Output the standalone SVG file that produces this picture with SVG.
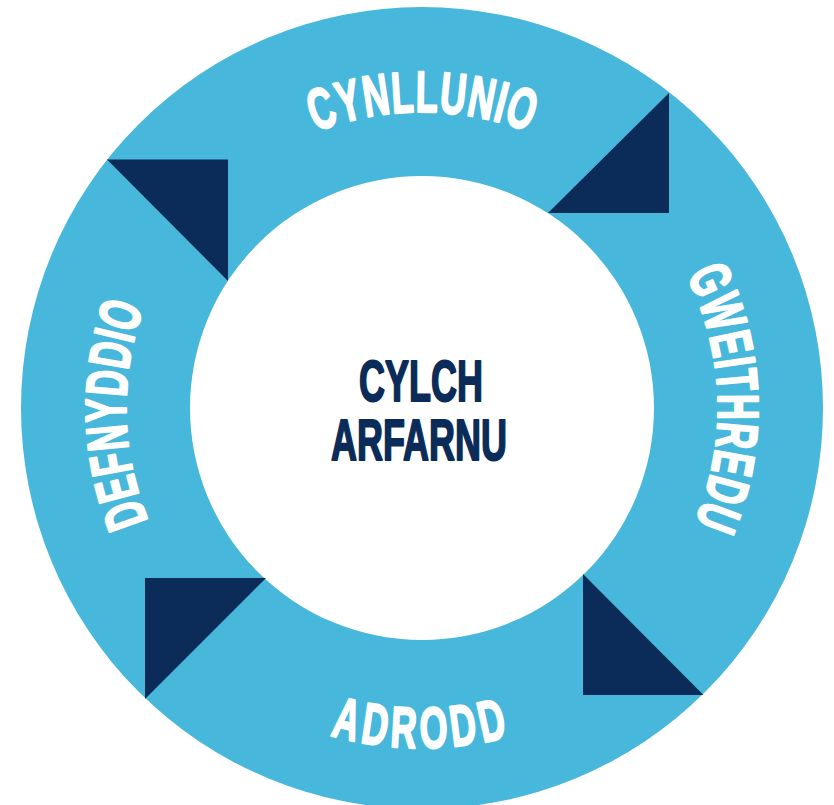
<svg xmlns="http://www.w3.org/2000/svg" width="834" height="805" viewBox="0 0 834 805">
  <style>
    .ring { fill: #48b7dc; fill-rule: evenodd; }
    .tri { fill: #0b2b58; }
    .lbl { font-family: "Liberation Sans", Arial, sans-serif; font-weight: 700; font-size: 58px; fill: #ffffff; stroke: #ffffff; stroke-width: 2.2; stroke-linejoin: round; text-anchor: middle; }
    .ctr { font-family: "Liberation Sans", Arial, sans-serif; font-weight: 700; font-size: 58px; fill: #0b2b58; stroke: #0b2b58; stroke-width: 2; stroke-linejoin: round; text-anchor: middle; }
  </style>
  <rect width="834" height="805" fill="#ffffff"/>
  <path id="ring" class="ring" d="M 21 408 A 401 401 0 1 0 823 408 A 401 401 0 1 0 21 408 Z M 190 408 A 232 232 0 1 1 654 408 A 232 232 0 1 1 190 408 Z"/>
  <g id="connectors">
    <polygon class="tri" points="669,93 669,213 548,213"/>
    <polygon class="tri" points="107,159.5 228,159.5 228,281"/>
    <polygon class="tri" points="145,578 266,578 145,699"/>
    <polygon class="tri" points="583,574 583,695 703.5,695"/>
  </g>
  <g id="cynllunio" class="lbl">
    <text transform="rotate(-18.6 422 408) translate(422 112) scale(.62 1)">C</text>
    <text transform="rotate(-13.5 422 408) translate(422 112) scale(.62 1)">Y</text>
    <text transform="rotate(-8.45 422 408) translate(422 112) scale(.62 1)">N</text>
    <text transform="rotate(-3.6 422 408) translate(422 112) scale(.62 1)">L</text>
    <text transform="rotate(0.85 422 408) translate(422 112) scale(.62 1)">L</text>
    <text transform="rotate(5.7 422 408) translate(422 112) scale(.62 1)">U</text>
    <text transform="rotate(10.95 422 408) translate(422 112) scale(.62 1)">N</text>
    <text transform="rotate(14.6 422 408) translate(422 112) scale(.62 1)">I</text>
    <text transform="rotate(18.45 422 408) translate(422 112) scale(.62 1)">O</text>
  </g>
  <g id="gweithredu" class="lbl">
    <text transform="rotate(66.0 422 408) translate(422 112) scale(.62 1)">G</text>
    <text transform="rotate(72.3 422 408) translate(422 112) scale(.62 1)">W</text>
    <text transform="rotate(78.2 422 408) translate(422 112) scale(.62 1)">E</text>
    <text transform="rotate(81.7 422 408) translate(422 112) scale(.62 1)">I</text>
    <text transform="rotate(84.95 422 408) translate(422 112) scale(.62 1)">T</text>
    <text transform="rotate(89.8 422 408) translate(422 112) scale(.62 1)">H</text>
    <text transform="rotate(95.05 422 408) translate(422 112) scale(.62 1)">R</text>
    <text transform="rotate(100.1 422 408) translate(422 112) scale(.62 1)">E</text>
    <text transform="rotate(105.15 422 408) translate(422 112) scale(.62 1)">D</text>
    <text transform="rotate(110.4 422 408) translate(422 112) scale(.62 1)">U</text>
  </g>
  <g id="adrodd" class="lbl">
    <text transform="rotate(13.5 422 408) translate(422 748) scale(.62 1)">A</text>
    <text transform="rotate(8.35 422 408) translate(422 748) scale(.62 1)">D</text>
    <text transform="rotate(3.25 422 408) translate(422 748) scale(.62 1)">R</text>
    <text transform="rotate(-2.05 422 408) translate(422 748) scale(.62 1)">O</text>
    <text transform="rotate(-7.35 422 408) translate(422 748) scale(.62 1)">D</text>
    <text transform="rotate(-12.5 422 408) translate(422 748) scale(.62 1)">D</text>
  </g>
  <g id="defnyddio" class="lbl">
    <text transform="rotate(250.1 422 408) translate(422 112) scale(.62 1)">D</text>
    <text transform="rotate(255.15 422 408) translate(422 112) scale(.62 1)">E</text>
    <text transform="rotate(259.75 422 408) translate(422 112) scale(.62 1)">F</text>
    <text transform="rotate(264.55 422 408) translate(422 112) scale(.62 1)">N</text>
    <text transform="rotate(269.55 422 408) translate(422 112) scale(.62 1)">Y</text>
    <text transform="rotate(274.55 422 408) translate(422 112) scale(.62 1)">D</text>
    <text transform="rotate(279.75 422 408) translate(422 112) scale(.62 1)">D</text>
    <text transform="rotate(283.35 422 408) translate(422 112) scale(.62 1)">I</text>
    <text transform="rotate(287.15 422 408) translate(422 112) scale(.62 1)">O</text>
  </g>
  <g id="center" class="ctr">
    <text transform="translate(421 401) scale(.62 1)">CYLCH</text>
    <text transform="translate(419 460) scale(.62 1)">ARFARNU</text>
  </g>
</svg>
